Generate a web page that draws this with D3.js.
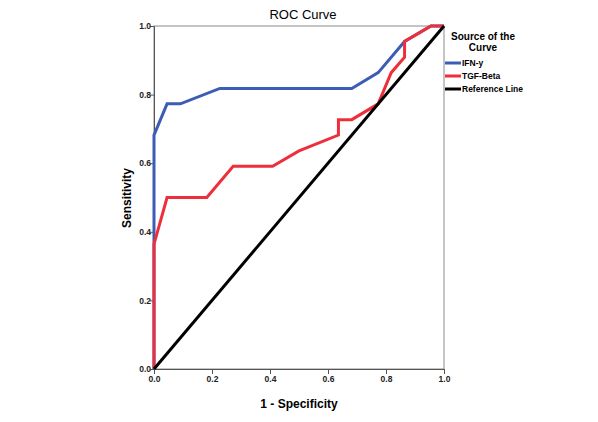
<!DOCTYPE html>
<html>
<head>
<meta charset="utf-8">
<script src="https://cdn.jsdelivr.net/npm/d3@7"></script>
<style>
  body { margin: 0; background: #fff; }
  svg { font-family: "Liberation Sans", Arial, sans-serif; }
</style>
</head>
<body>
<svg width="598" height="422"></svg>
<script>
  // ROC points, 1 - specificity vs sensitivity
  var ifnX = [0, 0, 0.045, 0.091, 0.227, 0.682, 0.773, 0.864, 0.955, 1];
  var ifnY = [0, 0.682, 0.773, 0.773, 0.818, 0.818, 0.864, 0.955, 1, 1];
  var tgfX = [0, 0, 0.045, 0.182, 0.273, 0.409, 0.5, 0.636, 0.636, 0.682, 0.773, 0.818, 0.864, 0.864, 0.955, 1];
  var tgfY = [0, 0.364, 0.5, 0.5, 0.591, 0.591, 0.636, 0.682, 0.727, 0.727, 0.773, 0.864, 0.909, 0.955, 1, 1];
  var refX = [0, 1];
  var refY = [0, 1];
  var tickValues = [0, 0.2, 0.4, 0.6, 0.8, 1.0];
  var seriesNames = ["IFN-y", "TGF-Beta", "Reference Line"];
  var seriesColors = ["#3d5db5", "#ee2f3b", "#000000"];

  var svg = d3.select("svg");
  var plotL = 154, plotR = 444, plotT = 26, plotB = 369;
  var x = d3.scaleLinear().domain([0, 1]).range([plotL, plotR]);
  var y = d3.scaleLinear().domain([0, 1]).range([plotB, plotT]);

  // frame
  svg.append("rect").attr("x", plotL).attr("y", plotT).attr("width", plotR - plotL).attr("height", plotB - plotT)
    .attr("fill", "none").attr("stroke", "#8a8a8a").attr("stroke-width", 1);

  var xAxis = svg.append("g").attr("transform", "translate(0," + plotB + ")")
    .call(d3.axisBottom(x).tickValues(tickValues).tickFormat(d3.format(".1f")).tickSizeOuter(0).tickSize(5));
  var yAxis = svg.append("g").attr("transform", "translate(" + plotL + ",0)")
    .call(d3.axisLeft(y).tickValues(tickValues).tickFormat(d3.format(".1f")).tickSizeOuter(0).tickSize(4));
  [xAxis, yAxis].forEach(function(a) {
    a.select(".domain").attr("stroke", "#555");
    a.selectAll(".tick line").attr("stroke", "#555");
    a.selectAll(".tick text").attr("fill", "#222").style("font-size", "8.5px").style("font-weight", "bold")
      .style("font-family", "'Liberation Sans', Arial, sans-serif");
  });
  xAxis.selectAll(".tick text").attr("dy", "0.6em");
  yAxis.selectAll(".tick text").attr("x", -3);

  var line = d3.line().x(function(d) { return x(d[0]); }).y(function(d) { return y(d[1]); });
  function pts(xs, ys) { return xs.map(function(v, i) { return [v, ys[i]]; }); }
  var series = [pts(ifnX, ifnY), pts(tgfX, tgfY), pts(refX, refY)];
  // blue first, red over it, reference line on top
  [0, 1, 2].forEach(function(i) {
    svg.append("path").datum(series[i]).attr("d", line).attr("fill", "none")
      .attr("stroke", seriesColors[i]).attr("stroke-width", 3).attr("stroke-linejoin", "miter");
  });

  svg.append("text").attr("x", 303).attr("y", 19).attr("text-anchor", "middle")
    .style("font-size", "13px").text("ROC Curve");
  svg.append("text").attr("x", 299).attr("y", 408).attr("text-anchor", "middle")
    .style("font-size", "12px").style("font-weight", "bold").text("1 - Specificity");
  svg.append("text").attr("transform", "translate(131,198) rotate(-90)").attr("text-anchor", "middle")
    .style("font-size", "12px").style("font-weight", "bold").text("Sensitivity");

  // legend
  svg.append("text").attr("x", 483).attr("y", 40).attr("text-anchor", "middle")
    .style("font-size", "10px").style("font-weight", "bold").text("Source of the");
  svg.append("text").attr("x", 483).attr("y", 51).attr("text-anchor", "middle")
    .style("font-size", "10px").style("font-weight", "bold").text("Curve");
  seriesNames.forEach(function(name, i) {
    var ly = 63 + i * 13;
    svg.append("line").attr("x1", 445).attr("x2", 461).attr("y1", ly).attr("y2", ly)
      .attr("stroke", seriesColors[i]).attr("stroke-width", 3);
    svg.append("text").attr("x", 462).attr("y", ly).attr("dy", "0.35em")
      .style("font-size", "8.5px").style("font-weight", "bold").text(name);
  });
</script>
</body>
</html>
